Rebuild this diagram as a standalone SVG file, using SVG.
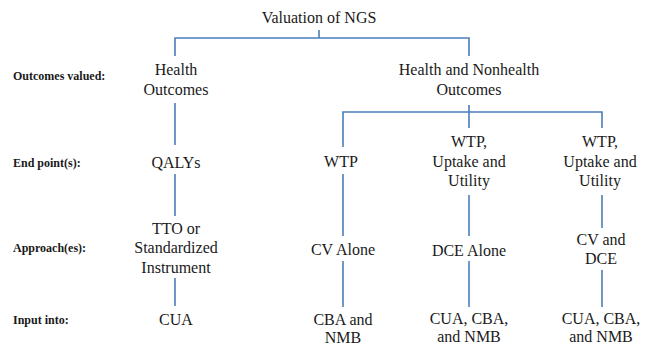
<svg xmlns="http://www.w3.org/2000/svg" width="647" height="348" viewBox="0 0 647 348">
<style>
.t{font-family:'Liberation Serif','Times New Roman',serif;font-size:16px;fill:#1a1a1a;text-anchor:middle}
.l{font-family:'Liberation Serif','Times New Roman',serif;font-size:12px;font-weight:bold;fill:#1a1a1a}
.c{stroke:#4a7ebb;stroke-width:1.6;fill:none}
</style>
<rect width="647" height="348" fill="#ffffff"/>
<g id="row-labels">
<text class="l" x="13" y="80">Outcomes valued:</text>
<text class="l" x="13" y="167">End point(s):</text>
<text class="l" x="13" y="252">Approach(es):</text>
<text class="l" x="13" y="324">Input into:</text>
</g>
<g id="connectors">
<path class="c" d="M319 30V38M175 56V38H469V56"/>
<path class="c" d="M175 103V145"/>
<path class="c" d="M469 105V112M343 147V112H602V128M469 112V128"/>
<path class="c" d="M175 174V216"/>
<path class="c" d="M343 174V236"/>
<path class="c" d="M469 195V236"/>
<path class="c" d="M602 195V228"/>
<path class="c" d="M175 278V306"/>
<path class="c" d="M343 261V307"/>
<path class="c" d="M469 261V307"/>
<path class="c" d="M602 270V307"/>
</g>
<g id="root"><text class="t" x="319" y="23">Valuation of NGS</text></g>
<g id="health-outcomes"><text class="t" x="176" y="75">Health</text><text class="t" x="176" y="95">Outcomes</text></g>
<g id="health-nonhealth-outcomes"><text class="t" x="469" y="75">Health and Nonhealth</text><text class="t" x="469" y="95">Outcomes</text></g>
<g id="qalys"><text class="t" x="176" y="168">QALYs</text></g>
<g id="wtp"><text class="t" x="341" y="167">WTP</text></g>
<g id="wtp-uptake-utility-1"><text class="t" x="469" y="147">WTP,</text><text class="t" x="469" y="167">Uptake and</text><text class="t" x="469" y="186">Utility</text></g>
<g id="wtp-uptake-utility-2"><text class="t" x="600" y="147">WTP,</text><text class="t" x="600" y="167">Uptake and</text><text class="t" x="600" y="186">Utility</text></g>
<g id="tto"><text class="t" x="176" y="234">TTO or</text><text class="t" x="176" y="253">Standardized</text><text class="t" x="176" y="273">Instrument</text></g>
<g id="cv-alone"><text class="t" x="343" y="255">CV Alone</text></g>
<g id="dce-alone"><text class="t" x="469" y="256">DCE Alone</text></g>
<g id="cv-dce"><text class="t" x="601" y="245">CV and</text><text class="t" x="601" y="264">DCE</text></g>
<g id="cua"><text class="t" x="176" y="325">CUA</text></g>
<g id="cba-nmb"><text class="t" x="343" y="325">CBA and</text><text class="t" x="343" y="343">NMB</text></g>
<g id="cua-cba-nmb-1"><text class="t" x="469" y="324">CUA, CBA,</text><text class="t" x="469" y="342">and NMB</text></g>
<g id="cua-cba-nmb-2"><text class="t" x="601" y="324">CUA, CBA,</text><text class="t" x="601" y="342">and NMB</text></g>
</svg>
